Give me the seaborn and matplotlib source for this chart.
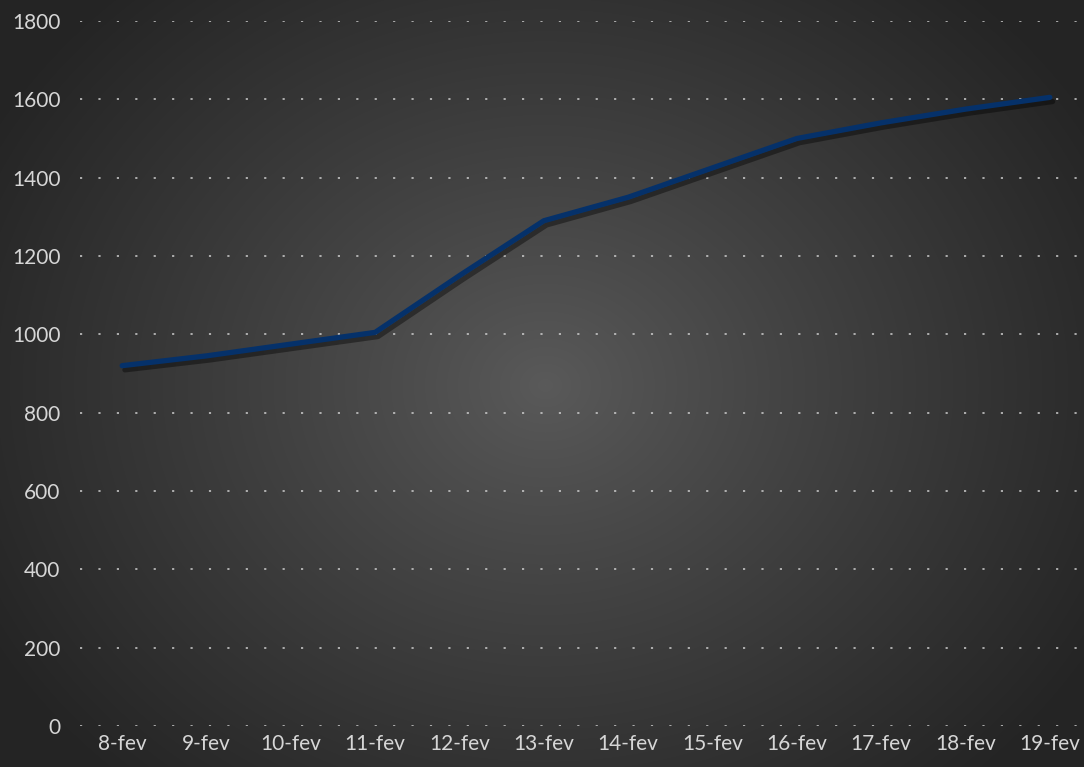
import numpy as np
import pandas as pd
import matplotlib
matplotlib.use("Agg")
import matplotlib.pyplot as plt
import matplotlib.patheffects as pe
import seaborn as sns

dates = ["8-fev", "9-fev", "10-fev", "11-fev", "12-fev", "13-fev",
         "14-fev", "15-fev", "16-fev", "17-fev", "18-fev", "19-fev"]
values = [920, 945, 975, 1005, 1150, 1290, 1350, 1425, 1500, 1540, 1575, 1605]
yticks = [0, 200, 400, 600, 800, 1000, 1200, 1400, 1600, 1800]

sns.set_style("dark")
plt.rcParams['font.family'] = ['Lato', 'DejaVu Sans']

W, H = 1084, 767
fig = plt.figure(figsize=(W / 100, H / 100), dpi=100)

# radial gradient background
bg = fig.add_axes([0, 0, 1, 1], zorder=0)
yy, xx = np.mgrid[0:H, 0:W]
cx, cy = 545, 385
r = np.sqrt(((xx - cx) / 640.0) ** 2 + ((yy - cy) / 540.0) ** 2)
r = np.clip(r, 0, 1) ** 0.9
c_in = np.array([0x5a, 0x5a, 0x5a]) / 255.0
c_out = np.array([0x24, 0x24, 0x24]) / 255.0
img = c_in[None, None, :] * (1 - r[..., None]) + c_out[None, None, :] * r[..., None]
bg.imshow(img, aspect='auto', extent=[0, 1, 0, 1], origin='upper')
bg.axis('off')

left_px, right_px = 80, 1092
left = left_px / W
width = (right_px - left_px) / W
bottom = (H - 726) / H
top = (H - 21) / H
ax = fig.add_axes([left, bottom, width, top - bottom], zorder=1)
ax.set_facecolor('none')

df = pd.DataFrame({"date": dates, "value": values})
df["x"] = np.arange(len(dates))

line_fx = [pe.SimpleLineShadow(offset=(2, -3), shadow_color='black', alpha=0.4, rho=0.3),
           pe.Normal()]
sns.lineplot(data=df, x="x", y="value", ax=ax, color="#05316a", linewidth=3.8,
             solid_joinstyle='round', solid_capstyle='round', path_effects=line_fx, zorder=3)

ax.set_xlim(-0.5, 11.5)
ax.set_ylim(0, 1800)
ax.set_yticks(yticks)
ax.set_yticklabels([str(v) for v in yticks])
ax.set_xticks(df["x"])
ax.set_xticklabels(dates)
ax.set_xlabel("")
ax.set_ylabel("")
ax.grid(axis='y', color='#cfcfcf', linestyle=(0, (1.2, 9)), linewidth=1.3, alpha=0.85)
ax.grid(axis='x', visible=False)
for s in ax.spines.values():
    s.set_visible(False)
ax.tick_params(axis='both', length=0, colors='#d6d6d6', labelsize=15)
ax.tick_params(axis='y', pad=14)
ax.tick_params(axis='x', pad=6)
for lbl in ax.get_xticklabels() + ax.get_yticklabels():
    lbl.set_color('#d6d6d6')

fig.savefig("out.png", dpi=100)
